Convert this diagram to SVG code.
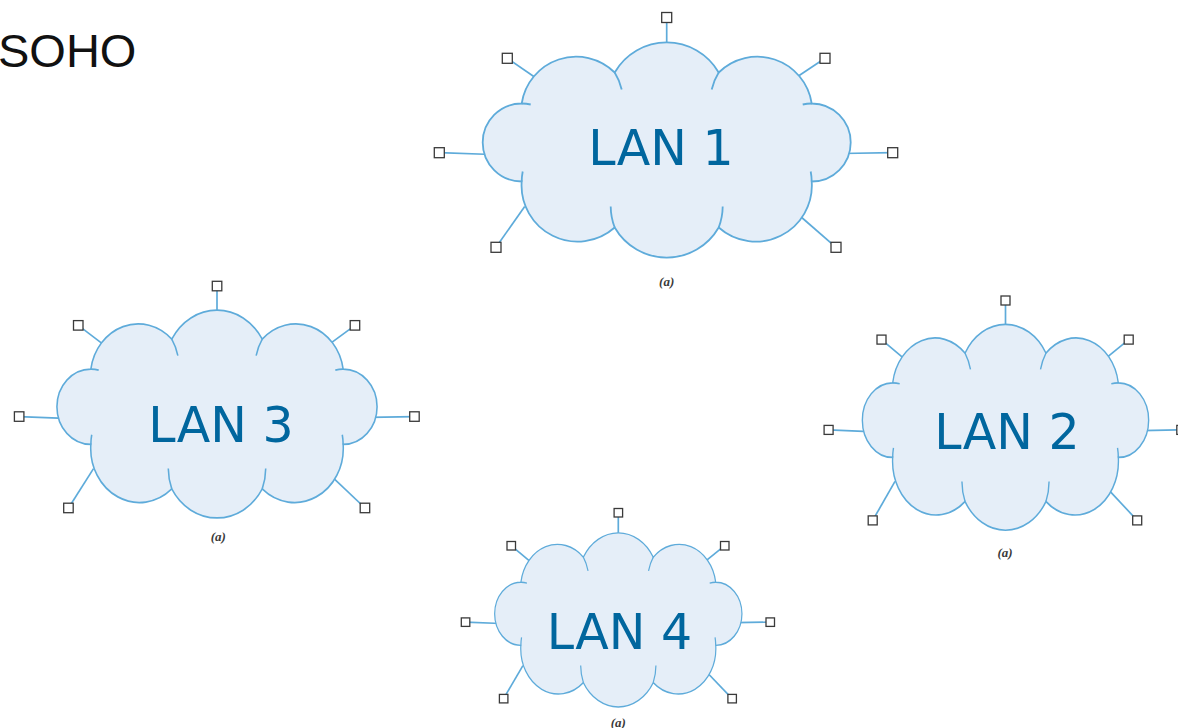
<svg xmlns="http://www.w3.org/2000/svg" xmlns:xlink="http://www.w3.org/1999/xlink" width="1178" height="728" viewBox="0 0 1178 728">
  <style>
    .cloud { fill: #e5eef8; stroke: #5eabda; stroke-width: 1.8; vector-effect: non-scaling-stroke; }
    .tail { fill: none; stroke: #5eabda; stroke-width: 1.8; vector-effect: non-scaling-stroke; }
    .link { stroke: #5eabda; stroke-width: 1.7; fill: none; }
    .dev { fill: #ffffff; stroke: #3a3a3a; stroke-width: 1.3; }
    .lan { font-family: "DejaVu Sans", Verdana, sans-serif; font-size: 49px; fill: #00669e; text-anchor: middle; }
    .cap { font-family: "Liberation Serif", "Times New Roman", serif; font-style: italic; font-weight: bold; font-size: 13px; fill: #3a3a3a; text-anchor: middle; }
    .title { font-family: "Liberation Sans", Arial, sans-serif; font-size: 47px; fill: #111111; }
  </style>
  <defs>
    <path id="cloudShape" d="M -145 31 A 39 39 0 0 1 -145 -47 A 55 55 0 0 1 -52 -78 A 60 60 0 0 1 52 -78 A 55 55 0 0 1 145 -47 A 39 39 0 0 1 145 31 A 56 56 0 0 1 52 77 A 60 60 0 0 1 -52 77 A 56 56 0 0 1 -145 31 Z"/>
    <path id="cloudTails" d="M -52 -78 A 55 55 0 0 1 -45 -61 M 52 -78 A 55 55 0 0 0 45 -61 M -145 -47 A 39 39 0 0 1 -136 -46 M 145 -47 A 39 39 0 0 0 136 -46 M -145 31 A 56 56 0 0 1 -144 21 M 145 31 A 56 56 0 0 0 144 21 M -52 77 A 60 60 0 0 1 -56 56 M 52 77 A 60 60 0 0 0 56 56"/>
  </defs>
  <rect x="0" y="0" width="1178" height="728" fill="#ffffff"/>

  <text id="title" class="title" x="-2" y="67">SOHO</text>

  <g id="connectors">
    <!-- LAN 1 device links -->
    <line class="link" x1="666.7" y1="50.5" x2="666.7" y2="17.5"/>
    <line class="link" x1="536.7" y1="78.5" x2="507.3" y2="58.3"/>
    <line class="link" x1="794.7" y1="78.5" x2="825" y2="58.3"/>
    <line class="link" x1="491.7" y1="154.5" x2="439.3" y2="152.7"/>
    <line class="link" x1="841.7" y1="153.5" x2="892.7" y2="152.7"/>
    <line class="link" x1="524.7" y1="206.5" x2="496" y2="247.3"/>
    <line class="link" x1="801.7" y1="217.5" x2="836" y2="247.3"/>
    <!-- LAN 3 device links -->
    <line class="link" x1="217" y1="317.9" x2="217" y2="286"/>
    <line class="link" x1="103.9" y1="344.9" x2="78.3" y2="325.4"/>
    <line class="link" x1="328.4" y1="344.9" x2="355" y2="325.4"/>
    <line class="link" x1="64.7" y1="418.4" x2="19.2" y2="416.6"/>
    <line class="link" x1="369.3" y1="417.4" x2="414.5" y2="416.6"/>
    <line class="link" x1="93.5" y1="468.6" x2="68.5" y2="508"/>
    <line class="link" x1="334.5" y1="479.2" x2="365" y2="508"/>
    <!-- LAN 2 device links -->
    <line class="link" x1="1005.5" y1="332.1" x2="1005.5" y2="300.5"/>
    <line class="link" x1="904.4" y1="358.9" x2="881.5" y2="339.6"/>
    <line class="link" x1="1105.1" y1="358.9" x2="1128.7" y2="339.6"/>
    <line class="link" x1="869.3" y1="431.6" x2="828.6" y2="429.9"/>
    <line class="link" x1="1141.7" y1="430.7" x2="1181.3" y2="429.9"/>
    <line class="link" x1="895" y1="481.4" x2="872.7" y2="520.4"/>
    <line class="link" x1="1110.5" y1="491.9" x2="1137.2" y2="520.4"/>
    <!-- LAN 4 device links -->
    <line class="link" x1="618.3" y1="539.4" x2="618.3" y2="512.7"/>
    <line class="link" x1="530.9" y1="562.1" x2="511.2" y2="545.7"/>
    <line class="link" x1="704.3" y1="562.1" x2="724.7" y2="545.7"/>
    <line class="link" x1="500.7" y1="623.5" x2="465.5" y2="622.1"/>
    <line class="link" x1="735.9" y1="622.7" x2="770.2" y2="622.1"/>
    <line class="link" x1="522.9" y1="665.6" x2="503.6" y2="698.6"/>
    <line class="link" x1="709" y1="674.5" x2="732.1" y2="698.6"/>
  </g>

  <g id="lan1">
    <g transform="translate(666.7,150.5)">
      <use xlink:href="#cloudShape" href="#cloudShape" class="cloud"/>
      <use xlink:href="#cloudTails" href="#cloudTails" class="tail"/>
    </g>
    <text class="lan" x="661" y="165">LAN 1</text>
    <text class="cap" x="666.7" y="286">(a)</text>
    <rect class="dev" x="661.7" y="12.5" width="10" height="10"/>
    <rect class="dev" x="502.3" y="53.3" width="10" height="10"/>
    <rect class="dev" x="820" y="53.3" width="10" height="10"/>
    <rect class="dev" x="434.3" y="147.7" width="10" height="10"/>
    <rect class="dev" x="887.7" y="147.7" width="10" height="10"/>
    <rect class="dev" x="491" y="242.3" width="10" height="10"/>
    <rect class="dev" x="831" y="242.3" width="10" height="10"/>
  </g>

  <g id="lan3">
    <g transform="translate(217,414.5) scale(0.870,0.966)">
      <use xlink:href="#cloudShape" href="#cloudShape" class="cloud"/>
      <use xlink:href="#cloudTails" href="#cloudTails" class="tail"/>
    </g>
    <text class="lan" x="221" y="442">LAN 3</text>
    <text class="cap" x="218.3" y="541">(a)</text>
    <rect class="dev" x="212.3" y="281.3" width="9.5" height="9.5"/>
    <rect class="dev" x="73.5" y="320.6" width="9.5" height="9.5"/>
    <rect class="dev" x="350.2" y="320.6" width="9.5" height="9.5"/>
    <rect class="dev" x="14.4" y="411.8" width="9.5" height="9.5"/>
    <rect class="dev" x="409.7" y="411.8" width="9.5" height="9.5"/>
    <rect class="dev" x="63.7" y="503.2" width="9.5" height="9.5"/>
    <rect class="dev" x="360.2" y="503.2" width="9.5" height="9.5"/>
  </g>

  <g id="lan2">
    <g transform="translate(1005.5,427.8) scale(0.778,0.957)">
      <use xlink:href="#cloudShape" href="#cloudShape" class="cloud"/>
      <use xlink:href="#cloudTails" href="#cloudTails" class="tail"/>
    </g>
    <text class="lan" x="1007" y="448.5">LAN 2</text>
    <text class="cap" x="1005" y="557">(a)</text>
    <rect class="dev" x="1001" y="296" width="9" height="9"/>
    <rect class="dev" x="877" y="335.1" width="9" height="9"/>
    <rect class="dev" x="1124.2" y="335.1" width="9" height="9"/>
    <rect class="dev" x="824.1" y="425.4" width="9" height="9"/>
    <rect class="dev" x="1176.8" y="425.4" width="9" height="9"/>
    <rect class="dev" x="868.2" y="515.9" width="9" height="9"/>
    <rect class="dev" x="1132.7" y="515.9" width="9" height="9"/>
  </g>

  <g id="lan4">
    <g transform="translate(618.3,620.3) scale(0.672,0.809)">
      <use xlink:href="#cloudShape" href="#cloudShape" class="cloud"/>
      <use xlink:href="#cloudTails" href="#cloudTails" class="tail"/>
    </g>
    <text class="lan" x="619.5" y="648.5">LAN 4</text>
    <text class="cap" x="618.3" y="727">(a)</text>
    <rect class="dev" x="614.1" y="508.5" width="8.5" height="8.5"/>
    <rect class="dev" x="507" y="541.5" width="8.5" height="8.5"/>
    <rect class="dev" x="720.5" y="541.5" width="8.5" height="8.5"/>
    <rect class="dev" x="461.3" y="617.9" width="8.5" height="8.5"/>
    <rect class="dev" x="766" y="617.9" width="8.5" height="8.5"/>
    <rect class="dev" x="499.4" y="694.4" width="8.5" height="8.5"/>
    <rect class="dev" x="727.9" y="694.4" width="8.5" height="8.5"/>
  </g>
</svg>
